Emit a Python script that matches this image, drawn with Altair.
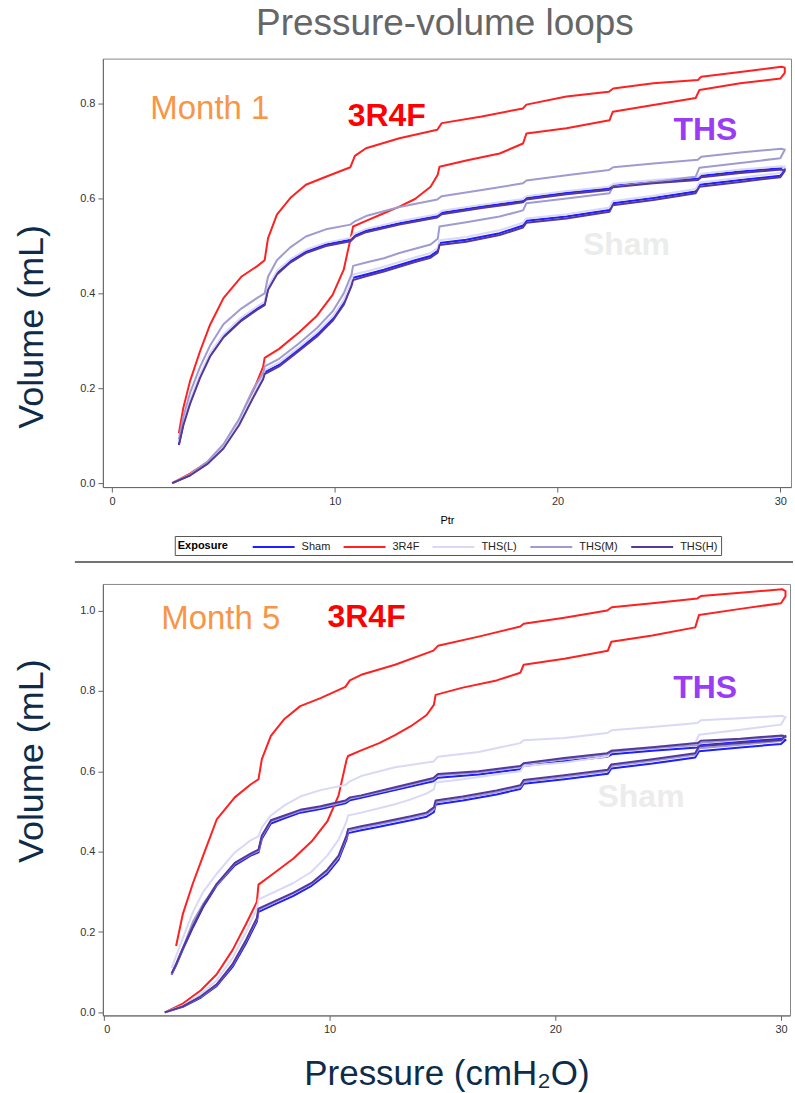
import altair as alt
import pandas as pd

SERIES = ["Sham", "3R4F", "THS(L)", "THS(M)", "THS(H)"]
COLORS = ["#1f1fff", "#ff2020", "#d9d9f7", "#9f9bd1", "#55389a"]

# pressure grid of the inflation (up) and deflation (down) limbs
P_INF = [2.7, 3.5, 4.3, 5.0, 5.7, 6.3, 6.78, 6.85, 7.5, 8.4, 9.2, 9.9, 10.4, 10.75, 10.82,
         11.4, 12.2, 12.9, 13.6, 14.3, 14.62, 14.7, 15.9, 17.4, 18.45, 18.6, 20.4, 22.33,
         22.48, 24.3, 26.2, 26.37, 28.2, 30.0, 30.2]
P_DEF = [30.2, 30.05, 28.2, 26.45, 26.3, 24.3, 22.5, 22.3, 20.4, 18.6, 18.45, 16.6, 14.8,
         14.6, 12.9, 11.4, 10.9, 10.7, 9.6, 8.7, 8.0, 7.4, 7.0, 6.85, 6.5, 5.8, 5.0, 4.4,
         3.95, 3.5, 3.2, 3.0]

# Month 1 volumes (mL)
M1_SHAM_INF = [0.0, 0.017, 0.042, 0.075, 0.125, 0.18, 0.222, 0.234, 0.25, 0.283, 0.313, 0.346, 0.38, 0.42, 0.433, 0.44, 0.45, 0.46, 0.47, 0.479, 0.49, 0.506, 0.513, 0.527, 0.543, 0.553, 0.562, 0.576, 0.59, 0.601, 0.615, 0.629, 0.639, 0.648, 0.662]
M1_3R4F_INF = [0.0, 0.02, 0.045, 0.075, 0.13, 0.19, 0.245, 0.264, 0.283, 0.318, 0.353, 0.397, 0.45, 0.525, 0.541, 0.553, 0.569, 0.583, 0.599, 0.625, 0.65, 0.667, 0.68, 0.695, 0.716, 0.737, 0.748, 0.765, 0.783, 0.797, 0.812, 0.829, 0.843, 0.853, 0.865]
M1_THSL_INF = [0.0, 0.018, 0.043, 0.077, 0.128, 0.184, 0.226, 0.238, 0.254, 0.287, 0.318, 0.351, 0.386, 0.426, 0.44, 0.446, 0.456, 0.466, 0.476, 0.485, 0.496, 0.512, 0.519, 0.533, 0.549, 0.558, 0.567, 0.581, 0.595, 0.606, 0.62, 0.634, 0.644, 0.654, 0.668]
M1_THSM_INF = [0.0, 0.018, 0.046, 0.082, 0.135, 0.195, 0.232, 0.246, 0.262, 0.295, 0.327, 0.362, 0.4, 0.44, 0.458, 0.465, 0.474, 0.485, 0.494, 0.503, 0.515, 0.541, 0.55, 0.562, 0.575, 0.59, 0.6, 0.611, 0.625, 0.635, 0.646, 0.665, 0.675, 0.685, 0.703]
M1_THSH_INF = [0.0, 0.016, 0.041, 0.073, 0.122, 0.177, 0.219, 0.23, 0.246, 0.279, 0.309, 0.342, 0.376, 0.416, 0.428, 0.436, 0.446, 0.456, 0.466, 0.475, 0.486, 0.502, 0.509, 0.523, 0.539, 0.549, 0.558, 0.572, 0.586, 0.597, 0.611, 0.625, 0.635, 0.645, 0.658]
M1_SHAM_DEF = [0.662, 0.664, 0.657, 0.648, 0.642, 0.635, 0.627, 0.621, 0.612, 0.601, 0.595, 0.583, 0.57, 0.563, 0.548, 0.532, 0.522, 0.513, 0.503, 0.488, 0.468, 0.443, 0.41, 0.378, 0.368, 0.345, 0.31, 0.27, 0.225, 0.17, 0.125, 0.082]
M1_3R4F_DEF = [0.876, 0.878, 0.867, 0.857, 0.85, 0.843, 0.832, 0.825, 0.815, 0.798, 0.79, 0.773, 0.759, 0.745, 0.727, 0.706, 0.69, 0.666, 0.646, 0.629, 0.601, 0.566, 0.516, 0.47, 0.457, 0.435, 0.39, 0.334, 0.278, 0.215, 0.159, 0.105]
M1_THSL_DEF = [0.666, 0.668, 0.661, 0.652, 0.646, 0.639, 0.631, 0.625, 0.616, 0.605, 0.599, 0.587, 0.574, 0.567, 0.552, 0.536, 0.526, 0.517, 0.507, 0.492, 0.472, 0.447, 0.414, 0.382, 0.372, 0.349, 0.314, 0.274, 0.229, 0.174, 0.129, 0.086]
M1_THSM_DEF = [0.703, 0.705, 0.697, 0.688, 0.682, 0.674, 0.666, 0.66, 0.649, 0.638, 0.632, 0.618, 0.605, 0.598, 0.582, 0.563, 0.552, 0.545, 0.535, 0.52, 0.497, 0.47, 0.435, 0.4, 0.39, 0.368, 0.335, 0.29, 0.245, 0.19, 0.14, 0.092]
M1_THSH_DEF = [0.659, 0.661, 0.654, 0.645, 0.639, 0.632, 0.624, 0.618, 0.609, 0.598, 0.592, 0.58, 0.567, 0.56, 0.545, 0.529, 0.519, 0.51, 0.5, 0.485, 0.465, 0.44, 0.407, 0.375, 0.365, 0.342, 0.307, 0.267, 0.222, 0.167, 0.122, 0.08]

# Month 5 volumes (mL)
M5_SHAM_INF = [0.0, 0.014, 0.037, 0.066, 0.113, 0.172, 0.226, 0.25, 0.267, 0.29, 0.315, 0.345, 0.38, 0.43, 0.446, 0.453, 0.462, 0.47, 0.478, 0.487, 0.498, 0.517, 0.527, 0.542, 0.556, 0.569, 0.58, 0.594, 0.607, 0.619, 0.634, 0.65, 0.659, 0.668, 0.678]
M5_3R4F_INF = [0.0, 0.022, 0.055, 0.095, 0.155, 0.22, 0.275, 0.318, 0.345, 0.383, 0.425, 0.475, 0.54, 0.628, 0.638, 0.652, 0.67, 0.69, 0.712, 0.74, 0.765, 0.79, 0.808, 0.826, 0.845, 0.865, 0.88, 0.9, 0.922, 0.938, 0.958, 0.989, 1.004, 1.018, 1.035]
M5_THSL_INF = [0.0, 0.017, 0.045, 0.08, 0.135, 0.2, 0.258, 0.281, 0.298, 0.322, 0.35, 0.39, 0.43, 0.475, 0.49, 0.497, 0.508, 0.518, 0.53, 0.545, 0.555, 0.572, 0.58, 0.592, 0.6, 0.613, 0.622, 0.637, 0.652, 0.66, 0.67, 0.691, 0.703, 0.716, 0.735]
M5_THSM_INF = [0.0, 0.015, 0.039, 0.069, 0.118, 0.178, 0.232, 0.255, 0.272, 0.296, 0.32, 0.351, 0.386, 0.436, 0.452, 0.459, 0.468, 0.476, 0.484, 0.493, 0.505, 0.523, 0.533, 0.548, 0.561, 0.574, 0.586, 0.6, 0.613, 0.626, 0.641, 0.657, 0.666, 0.675, 0.685]
M5_THSH_INF = [0.0, 0.015, 0.04, 0.07, 0.12, 0.18, 0.235, 0.258, 0.275, 0.298, 0.322, 0.355, 0.39, 0.44, 0.456, 0.463, 0.472, 0.48, 0.488, 0.497, 0.51, 0.527, 0.537, 0.552, 0.565, 0.578, 0.59, 0.604, 0.617, 0.63, 0.645, 0.662, 0.67, 0.678, 0.688]
M5_SHAM_DEF = [0.677, 0.681, 0.673, 0.665, 0.659, 0.651, 0.642, 0.636, 0.625, 0.613, 0.605, 0.592, 0.584, 0.575, 0.553, 0.534, 0.528, 0.52, 0.506, 0.497, 0.483, 0.47, 0.432, 0.398, 0.39, 0.366, 0.316, 0.262, 0.212, 0.157, 0.117, 0.094]
M5_3R4F_DEF = [1.048, 1.053, 1.044, 1.036, 1.03, 1.018, 1.008, 1.0, 0.982, 0.967, 0.96, 0.935, 0.912, 0.9, 0.865, 0.84, 0.826, 0.81, 0.782, 0.762, 0.73, 0.688, 0.63, 0.58, 0.567, 0.535, 0.48, 0.39, 0.322, 0.245, 0.165, None]
M5_THSL_DEF = [0.734, 0.738, 0.732, 0.727, 0.72, 0.71, 0.702, 0.695, 0.683, 0.677, 0.67, 0.648, 0.636, 0.624, 0.61, 0.588, 0.575, 0.566, 0.553, 0.537, 0.515, 0.49, 0.46, 0.438, 0.428, 0.398, 0.345, 0.3, 0.25, 0.185, 0.14, 0.11]
M5_THSM_DEF = [0.684, 0.687, 0.679, 0.671, 0.665, 0.657, 0.648, 0.642, 0.63, 0.619, 0.611, 0.597, 0.59, 0.58, 0.557, 0.538, 0.532, 0.524, 0.51, 0.501, 0.487, 0.475, 0.437, 0.402, 0.393, 0.37, 0.318, 0.27, 0.226, 0.16, 0.12, 0.096]
M5_THSH_DEF = [0.686, 0.689, 0.681, 0.676, 0.67, 0.66, 0.651, 0.645, 0.633, 0.62, 0.613, 0.6, 0.593, 0.583, 0.56, 0.54, 0.535, 0.527, 0.513, 0.504, 0.49, 0.478, 0.44, 0.405, 0.395, 0.372, 0.32, 0.265, 0.215, 0.16, 0.12, 0.097]

# annotation labels (text, pressure, volume, colour)
M1_LABELS = ["Month 1", "3R4F", "THS", "Sham"]
M1_LABEL_P = [4.39, 12.33, 26.64, 23.09]
M1_LABEL_V = [0.789, 0.773, 0.745, 0.501]
M5_LABELS = ["Month 5", "3R4F", "THS", "Sham"]
M5_LABEL_P = [5.18, 11.64, 26.64, 23.8]
M5_LABEL_V = [0.979, 0.984, 0.807, 0.537]
LABEL_COLORS = ["#f79646", "#ff0000", "#9b3cf5", "#ececec"]

X_TICKS = [0, 10, 20, 30]
Y1_TICKS = [0.0, 0.2, 0.4, 0.6, 0.8]
Y5_TICKS = [0.0, 0.2, 0.4, 0.6, 0.8, 1.0]

FONT = "Liberation Sans"
NAVY = "#0e2c4a"


def loops(arrays):
    rows = []
    for name, (vin, vdef) in zip(SERIES, arrays):
        k = 0
        for p, v in zip(P_INF, vin):
            rows.append({"series": name, "P": p, "V": v, "k": k})
            k += 1
        for p, v in zip(P_DEF, vdef):
            if v is None:
                continue
            rows.append({"series": name, "P": p, "V": v, "k": k})
            k += 1
    return pd.DataFrame(rows)


df1 = loops([(M1_SHAM_INF, M1_SHAM_DEF), (M1_3R4F_INF, M1_3R4F_DEF), (M1_THSL_INF, M1_THSL_DEF),
             (M1_THSM_INF, M1_THSM_DEF), (M1_THSH_INF, M1_THSH_DEF)])
df5 = loops([(M5_SHAM_INF, M5_SHAM_DEF), (M5_3R4F_INF, M5_3R4F_DEF), (M5_THSL_INF, M5_THSL_DEF),
             (M5_THSM_INF, M5_THSM_DEF), (M5_THSH_INF, M5_THSH_DEF)])

AX = dict(labelFont=FONT, labelFontSize=11, labelColor="#333333", tickColor="#666666",
          domainColor="#666666", tickSize=5, labelPadding=3, grid=False)


def label_layers(texts, ps, vs, xenc, yenc):
    layers = []
    for i, t in enumerate(texts):
        d = pd.DataFrame({"t": [t], "P": [ps[i]], "V": [vs[i]]})
        if i == 0:
            mk = alt.Chart(d).mark_text(font=FONT, fontSize=33, fontWeight="normal",
                                        color=LABEL_COLORS[i])
        else:
            mk = alt.Chart(d).mark_text(font=FONT, fontSize=32, fontWeight="bold",
                                        color=LABEL_COLORS[i])
        layers.append(mk.encode(x=xenc, y=yenc, text="t:N"))
    return layers


# ---------- top panel (month 1) ----------
x1 = alt.X("P:Q", scale=alt.Scale(domain=[-0.413, 30.48], nice=False, zero=False),
           axis=alt.Axis(values=X_TICKS, format="d", title="Ptr", titleFont=FONT,
                         titleFontSize=11, titleFontWeight="normal", titleColor="#000000",
                         titlePadding=8, **AX))
y1 = alt.Y("V:Q", scale=alt.Scale(domain=[-0.0084, 0.895], nice=False, zero=False),
           axis=alt.Axis(values=Y1_TICKS, format=".1f", title="Volume (mL)", titleFont=FONT,
                         titleFontSize=36, titleFontWeight="normal", titleColor=NAVY,
                         titleAngle=270, titleX=-60, titleY=268, titleAlign="center",
                         titleBaseline="alphabetic", **AX))
c1 = alt.Color("series:N", scale=alt.Scale(domain=SERIES, range=COLORS),
               legend=alt.Legend(orient="none", legendX=72, legendY=478, direction="horizontal",
                                 title="Exposure", titleOrient="left", titleAnchor="middle",
                                 titleBaseline="middle", titleFont=FONT,
                                 titleFontSize=11, titleFontWeight="bold", titleColor="#000000",
                                 titlePadding=37, labelFont=FONT, labelFontSize=11,
                                 labelColor="#222222", symbolType="M-3,0H3", symbolSize=196,
                                 symbolStrokeWidth=2, strokeColor="#555555", fillColor="white",
                                 padding=3, columnPadding=9, labelOffset=20))
lines1 = alt.Chart(df1).mark_line(strokeWidth=2, strokeJoin="round").encode(
    x=x1, y=y1, color=c1, order="k:Q")
top = alt.layer(lines1, *label_layers(M1_LABELS, M1_LABEL_P, M1_LABEL_V, x1, y1)).properties(
    width=689, height=429,
    title=alt.TitleParams("Pressure-volume loops", font=FONT, fontSize=37, fontWeight="normal",
                          color="#666666", frame="group", anchor="middle", dx=-2, offset=16))

# ---------- bottom panel (month 5) ----------
x5 = alt.X("P:Q", scale=alt.Scale(domain=[-0.044, 30.4], nice=False, zero=False),
           axis=alt.Axis(values=X_TICKS, format="d", title="Pressure (cmH₂O)", titleFont=FONT,
                         titleFontSize=35, titleFontWeight="normal", titleColor=NAVY,
                         titlePadding=22, **AX))
y5 = alt.Y("V:Q", scale=alt.Scale(domain=[-0.0075, 1.066], nice=False, zero=False),
           axis=alt.Axis(values=Y5_TICKS, format=".1f", title="Volume (mL)", titleFont=FONT,
                         titleFontSize=36, titleFontWeight="normal", titleColor=NAVY,
                         titleAngle=270, titleX=-60, titleY=177, titleAlign="center",
                         titleBaseline="alphabetic", **AX))
c5 = alt.Color("series:N", scale=alt.Scale(domain=SERIES, range=COLORS), legend=None)
lines5 = alt.Chart(df5).mark_line(strokeWidth=2, strokeJoin="round").encode(
    x=x5, y=y5, color=c5, order="k:Q")
separator = alt.Chart(pd.DataFrame({"k": [0]})).mark_rule(color="#444444", strokeWidth=1.5).encode(
    x=alt.value(-28), x2=alt.value(691), y=alt.value(-22))
bottom = alt.layer(lines5, *label_layers(M5_LABELS, M5_LABEL_P, M5_LABEL_V, x5, y5),
                   separator).properties(width=688, height=432)

chart = alt.concat(top, bottom, columns=1, spacing=4).resolve_scale(
    x="independent", y="independent", color="independent"
).configure(
    font=FONT, background="white",
    padding={"left": 13, "top": 3, "right": 0, "bottom": 0}
).configure_view(stroke="#888888", strokeWidth=1)

chart.save("out.html", embed_options={"renderer": "svg", "actions": False})
